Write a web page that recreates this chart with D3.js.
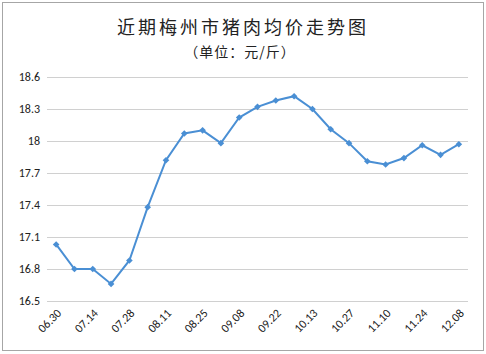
<!DOCTYPE html>
<html>
<head>
<meta charset="utf-8">
<script src="https://cdn.jsdelivr.net/npm/d3@7"></script>
<style>
body { margin: 0; background: #fff; }
</style>
</head>
<body>
<div id="chart"></div>
<script>
// weekly pork price, Meizhou
var dates = ["06.30","07.07","07.14","07.21","07.28","08.04","08.11","08.18","08.25","09.01",
             "09.08","09.15","09.22","09.29","10.13","10.20","10.27","11.03","11.10","11.17",
             "11.24","12.01","12.08"];
var prices = [17.03,16.80,16.80,16.66,16.88,17.38,17.82,18.07,18.10,17.98,
              18.22,18.32,18.38,18.42,18.30,18.11,17.98,17.81,17.78,17.84,
              17.96,17.87,17.97];
var yTicks = [16.5,16.8,17.1,17.4,17.7,18,18.3,18.6];
var labelEvery = 2;

var W = 486, H = 354;
var margin = {top:77, right:18, bottom:53, left:47};
var width = 468 - margin.left;
var height = 301 - margin.top;

var svg = d3.select("#chart").append("svg")
    .attr("width", W)
    .attr("height", H);

// frame
svg.append("rect")
    .attr("x", 2.5).attr("y", 2.5)
    .attr("width", 481).attr("height", 348)
    .attr("fill", "#fff")
    .attr("stroke", "#a6a6a6")
    .attr("stroke-width", 1);

svg.append("text")
    .attr("x", 243).attr("y", 34)
    .attr("text-anchor", "middle")
    .style("font-family", "'Noto Sans CJK SC', sans-serif")
    .style("font-size", "18px")
    .style("letter-spacing", "3px")
    .attr("fill", "#222")
    .text("近期梅州市猪肉均价走势图");

svg.append("text")
    .attr("x", 240).attr("y", 57)
    .attr("text-anchor", "middle")
    .style("font-family", "'Noto Sans CJK SC', sans-serif")
    .style("font-size", "14px")
    .style("letter-spacing", "1px")
    .attr("fill", "#222")
    .text("（单位：元/斤）");

var g = svg.append("g")
    .attr("transform", "translate(" + margin.left + "," + margin.top + ")");

var x = d3.scaleBand().domain(dates).range([0, width]);
var y = d3.scaleLinear().domain([16.5, 18.6]).range([height, 0]);

// gridlines
g.append("g")
    .attr("class", "grid")
    .call(d3.axisLeft(y).tickValues(yTicks).tickSize(-width).tickFormat(""))
    .call(function (s) {
        s.select(".domain").remove();
        s.selectAll("line").attr("stroke", "#d0d0d0").attr("stroke-width", 1.2);
    });

// y labels
g.append("g")
    .call(d3.axisLeft(y).tickValues(yTicks).tickSize(0).tickPadding(7)
        .tickFormat(function (d) { return d3.format("")(+d.toFixed(1)); }))
    .call(function (s) {
        s.select(".domain").remove();
        s.selectAll("text")
            .style("font-family", "Calibri, Carlito, 'Liberation Sans', sans-serif")
            .style("font-size", "12px")
            .attr("fill", "#222");
    });

// x labels
g.append("g")
    .attr("transform", "translate(0," + height + ")")
    .call(d3.axisBottom(x)
        .tickValues(dates.filter(function (d, i) { return i % labelEvery === 0; }))
        .tickSize(0))
    .call(function (s) {
        s.select(".domain").remove();
        s.selectAll("text")
            .style("font-family", "Calibri, Carlito, 'Liberation Sans', sans-serif")
            .style("font-size", "12px")
            .attr("fill", "#222")
            .attr("text-anchor", "end")
            .attr("x", 0).attr("y", 0).attr("dy", null)
            .attr("transform", "translate(6,13) rotate(-45)");
    });

var line = d3.line()
    .x(function (d, i) { return x(dates[i]) + x.bandwidth() / 2; })
    .y(function (d) { return y(d); });

g.append("path")
    .datum(prices)
    .attr("d", line)
    .attr("fill", "none")
    .attr("stroke", "#4a8fd4")
    .attr("stroke-width", 2);

g.selectAll(".pt")
    .data(prices)
    .enter().append("path")
    .attr("class", "pt")
    .attr("d", d3.symbol().type(d3.symbolSquare).size(22))
    .attr("transform", function (d, i) {
        return "translate(" + (x(dates[i]) + x.bandwidth() / 2) + "," + y(d) + ") rotate(45)";
    })
    .attr("fill", "#4a8fd4");
</script>
</body>
</html>
